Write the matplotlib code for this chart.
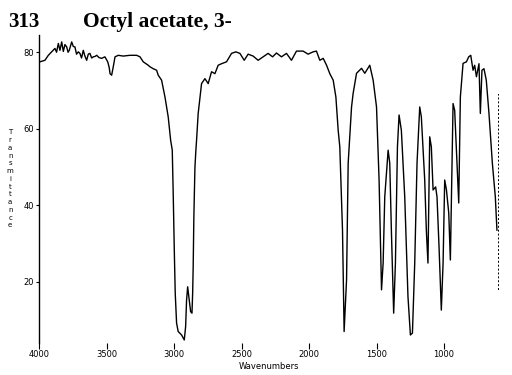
import matplotlib
matplotlib.use("Agg")
import matplotlib.pyplot as plt

# wavenumber (cm-1) and % transmittance
wavenumber = [
    4000, 3993, 3956, 3931, 3906, 3882, 3870, 3857, 3845, 3832, 3820, 3808,
    3795, 3785, 3776, 3758, 3746, 3734, 3722, 3709, 3697, 3685, 3672, 3660,
    3647, 3635, 3623, 3610, 3598, 3585, 3573, 3555, 3536, 3512, 3491, 3480,
    3474, 3462, 3450, 3437, 3413, 3376, 3326, 3277, 3252, 3228, 3191, 3178,
    3154, 3129, 3117, 3092, 3067, 3043, 3025, 3013, 3006, 2998, 2991, 2981,
    2969, 2944, 2924, 2914, 2907, 2899, 2890, 2877, 2867, 2862, 2858, 2853,
    2845, 2838, 2833, 2821, 2796, 2771, 2747, 2722, 2697, 2673, 2648, 2611,
    2574, 2542, 2512, 2480, 2451, 2414, 2377, 2340, 2303, 2270, 2241, 2204,
    2167, 2130, 2093, 2044, 2007, 1970, 1945, 1920, 1895, 1870, 1846, 1821,
    1801, 1784, 1772, 1752, 1740, 1722, 1710, 1685, 1673, 1648, 1611, 1587,
    1550, 1525, 1500, 1481, 1463, 1451, 1439, 1414, 1402, 1390, 1373, 1360,
    1345, 1333, 1316, 1291, 1267, 1249, 1234, 1217, 1200, 1180, 1168, 1156,
    1143, 1131, 1119, 1106, 1094, 1081, 1062, 1052, 1037, 1020, 1007, 995,
    982, 965, 953, 941, 933, 921, 904, 891, 879, 859, 834, 817,
    802, 785, 773, 760, 741, 731, 719, 704, 687, 667, 642, 620,
    608,
]
transmittance = [
    77.6, 77.5, 77.9, 79.2, 80.1, 81.0, 80.0, 82.3, 80.5, 82.7, 80.2, 82.0,
    81.4, 80.0, 80.5, 82.7, 81.5, 81.4, 79.5, 80.1, 79.7, 78.5, 80.5, 79.0,
    77.9, 79.5, 79.7, 78.5, 78.8, 78.9, 79.2, 78.6, 78.4, 78.8, 77.5, 76.0,
    74.4, 74.0, 76.2, 78.8, 79.2, 79.0, 79.2, 79.2, 78.8, 77.5, 76.6, 76.2,
    75.7, 75.3, 74.0, 72.7, 68.3, 63.1, 57.0, 54.4, 43.1, 28.3, 17.0, 9.2,
    7.0, 6.1, 4.8, 8.3, 15.2, 18.7, 16.1, 12.2, 11.8, 17.0, 24.0, 37.0,
    50.0, 54.4, 57.0, 64.0, 71.8, 73.1, 71.8, 74.9, 74.4, 76.6, 77.0, 77.5,
    79.7, 80.1, 79.7, 77.9, 79.5, 79.0, 77.9, 78.8, 79.7, 78.8, 79.8, 78.8,
    79.7, 77.9, 80.3, 80.3, 79.5, 80.1, 80.3, 77.9, 78.4, 76.6, 74.4, 72.7,
    68.3, 59.6, 55.3, 33.5, 7.0, 20.5, 51.0, 65.7, 69.3, 74.5, 75.8, 74.5,
    76.6, 72.7, 65.7, 46.6, 17.9, 24.9, 42.2, 54.4, 51.0, 33.5, 11.8, 24.9,
    55.3, 63.6, 59.6, 42.2, 16.1, 6.1, 6.6, 24.9, 51.0, 65.7, 63.1, 55.3,
    46.6, 33.5, 24.9, 57.9, 55.3, 44.0, 44.8, 42.2, 29.2, 12.6, 24.9, 46.6,
    44.0, 38.0, 25.7, 51.0, 66.6, 64.8, 51.0, 40.6, 68.3, 77.1, 77.5, 78.8,
    79.2, 75.3, 76.6, 73.6, 77.0, 64.0, 75.3, 75.7, 72.7, 64.0, 51.0, 42.2,
    33.5,
]

x_ticks = [4000, 3500, 3000, 2500, 2000, 1500, 1000]
y_ticks = [20, 40, 60, 80]

fig = plt.figure(figsize=(5.12, 3.75), dpi=100)
ax = fig.add_axes([0.0762, 0.0853, 0.8965, 0.8213])

ax.plot(wavenumber, transmittance, color="black", lw=1.0)

ax.set_xlim(4000, 600)
ax.set_ylim(4, 84.5)
ax.set_xticks(x_ticks)
ax.set_xticklabels([str(t) for t in x_ticks])
ax.set_yticks(y_ticks)
ax.set_yticklabels([str(t) for t in y_ticks])

for side in ["top", "bottom"]:
    ax.spines[side].set_visible(False)
ax.spines["left"].set_linewidth(1.0)
ax.spines["right"].set_linestyle((0, (1, 3)))
ax.spines["right"].set_linewidth(0.7)
ax.spines["right"].set_bounds(18, 69)

ax.tick_params(axis="x", direction="out", length=4, width=0.8, pad=1,
               labelsize=6, bottom=True)
ax.tick_params(axis="y", direction="out", length=2.5, width=0.8, pad=1,
               labelsize=6, right=False)

fig.text(0.525, 0.022, "Wavenumbers", fontsize=6, ha="center", va="center")
fig.text(0.02, 0.523, "\n".join("Transmittance"), fontsize=5, ha="center",
         va="center", linespacing=1.35)

fig.text(8 / 512, 1 - 27 / 375, "313", fontsize=15, fontweight="bold",
         family="Liberation Serif", va="baseline")
fig.text(83 / 512, 1 - 27 / 375, "Octyl acetate, 3-", fontsize=15.5,
         fontweight="bold", family="Liberation Serif", va="baseline")

fig.savefig("out.png", dpi=100)
